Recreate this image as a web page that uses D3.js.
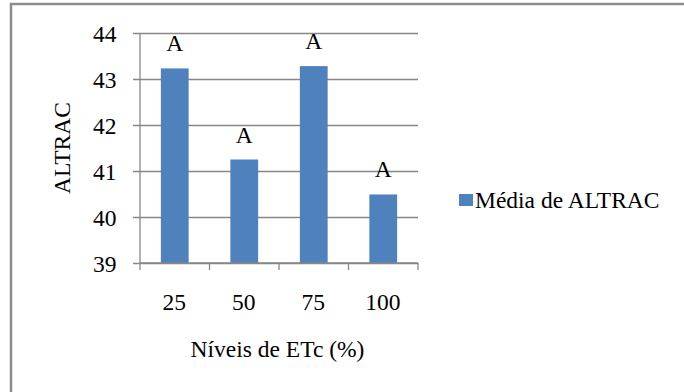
<!DOCTYPE html>
<html>
<head>
<meta charset="utf-8">
<script src="https://cdn.jsdelivr.net/npm/d3@7"></script>
<style>
  html, body { margin: 0; padding: 0; background: #fff; }
  svg { display: block; }
  svg text { font-family: "Liberation Serif", "Times New Roman", serif; fill: #000; }
</style>
</head>
<body>
<svg id="chart" width="684" height="392"></svg>
<script>
// Mean ALTRAC per ETc irrigation level, with Tukey grouping letters
const niveis = ["25", "50", "75", "100"];
const mediaAltrac = [43.23, 41.25, 43.28, 40.49];
const letras = ["A", "A", "A", "A"];
const yTicks = [39, 40, 41, 42, 43, 44];
const serieNome = "Média de ALTRAC";
const eixoX = "Níveis de ETc (%)";
const eixoY = "ALTRAC";

const svg = d3.select("#chart");
const W = 684, H = 392;
const plot = { left: 140, right: 418, top: 33, bottom: 263 };
const barColor = "#4F81BD";
const lineColor = "#878787";
const fs = 23.5;

// outer frame (cropped on the right and bottom)
svg.append("rect")
  .attr("x", 11).attr("y", 4)
  .attr("width", W + 10).attr("height", H + 10)
  .attr("fill", "#fff")
  .attr("stroke", "#8c8c8c").attr("stroke-width", 2.5);

const x = d3.scaleBand()
  .domain(niveis)
  .range([plot.left, plot.right])
  .paddingInner(0.6)
  .paddingOuter(0.3);

const y = d3.scaleLinear()
  .domain([d3.min(yTicks), d3.max(yTicks)])
  .range([plot.bottom, plot.top]);

// horizontal gridlines with short left ticks
const yAxis = d3.axisLeft(y)
  .tickValues(yTicks)
  .tickSize(-(plot.right - plot.left))
  .tickSizeOuter(0)
  .tickFormat("");
const gy = svg.append("g")
  .attr("transform", `translate(${plot.left},0)`)
  .call(yAxis);
gy.select(".domain").remove();
gy.selectAll(".tick line")
  .attr("x1", -7)
  .attr("stroke", lineColor).attr("stroke-width", 1.3);

// y tick labels
svg.append("g").selectAll("text")
  .data(yTicks)
  .join("text")
  .attr("x", 116.5)
  .attr("y", d => y(d) + 9)
  .attr("text-anchor", "end")
  .attr("font-size", fs)
  .text(d => d);

// vertical axis line
svg.append("line")
  .attr("x1", plot.left).attr("x2", plot.left)
  .attr("y1", plot.top).attr("y2", plot.bottom)
  .attr("stroke", lineColor).attr("stroke-width", 1.3);

// bars
svg.append("g").selectAll("rect")
  .data(niveis)
  .join("rect")
  .attr("x", d => x(d))
  .attr("width", x.bandwidth())
  .attr("y", (d, i) => y(mediaAltrac[i]))
  .attr("height", (d, i) => y(d3.min(yTicks)) - y(mediaAltrac[i]))
  .attr("fill", barColor);

// x axis line and category boundary ticks
const step = x.step();
const boundaries = d3.range(niveis.length + 1).map(i => plot.left + i * step);
svg.append("line")
  .attr("x1", plot.left).attr("x2", plot.right)
  .attr("y1", plot.bottom).attr("y2", plot.bottom)
  .attr("stroke", lineColor).attr("stroke-width", 1.3);
svg.append("g").selectAll("line")
  .data(boundaries)
  .join("line")
  .attr("x1", d => d).attr("x2", d => d)
  .attr("y1", plot.bottom).attr("y2", plot.bottom + 7)
  .attr("stroke", lineColor).attr("stroke-width", 1.3);

// x tick labels
svg.append("g").selectAll("text")
  .data(niveis)
  .join("text")
  .attr("x", d => x(d) + x.bandwidth() / 2 - 0.5)
  .attr("y", 310)
  .attr("text-anchor", "middle")
  .attr("font-size", fs)
  .text(d => d);

// grouping letters above bars
svg.append("g").selectAll("text")
  .data(niveis)
  .join("text")
  .attr("x", d => x(d) + x.bandwidth() / 2)
  .attr("y", (d, i) => y(mediaAltrac[i]) - 17)
  .attr("text-anchor", "middle")
  .attr("font-size", fs)
  .text((d, i) => letras[i]);

// axis titles
svg.append("text")
  .attr("x", 277.5)
  .attr("y", 357)
  .attr("text-anchor", "middle")
  .attr("font-size", fs)
  .text(eixoX);

svg.append("text")
  .attr("transform", `translate(70,${(plot.top + plot.bottom) / 2}) rotate(-90)`)
  .attr("text-anchor", "middle")
  .attr("font-size", fs)
  .text(eixoY);

// legend
const lg = svg.append("g").attr("transform", "translate(459,194)");
lg.append("rect")
  .attr("width", 14).attr("height", 12)
  .attr("fill", barColor);
lg.append("text")
  .attr("x", 16).attr("y", 13.5)
  .attr("font-size", fs)
  .text(serieNome);
</script>
</body>
</html>
